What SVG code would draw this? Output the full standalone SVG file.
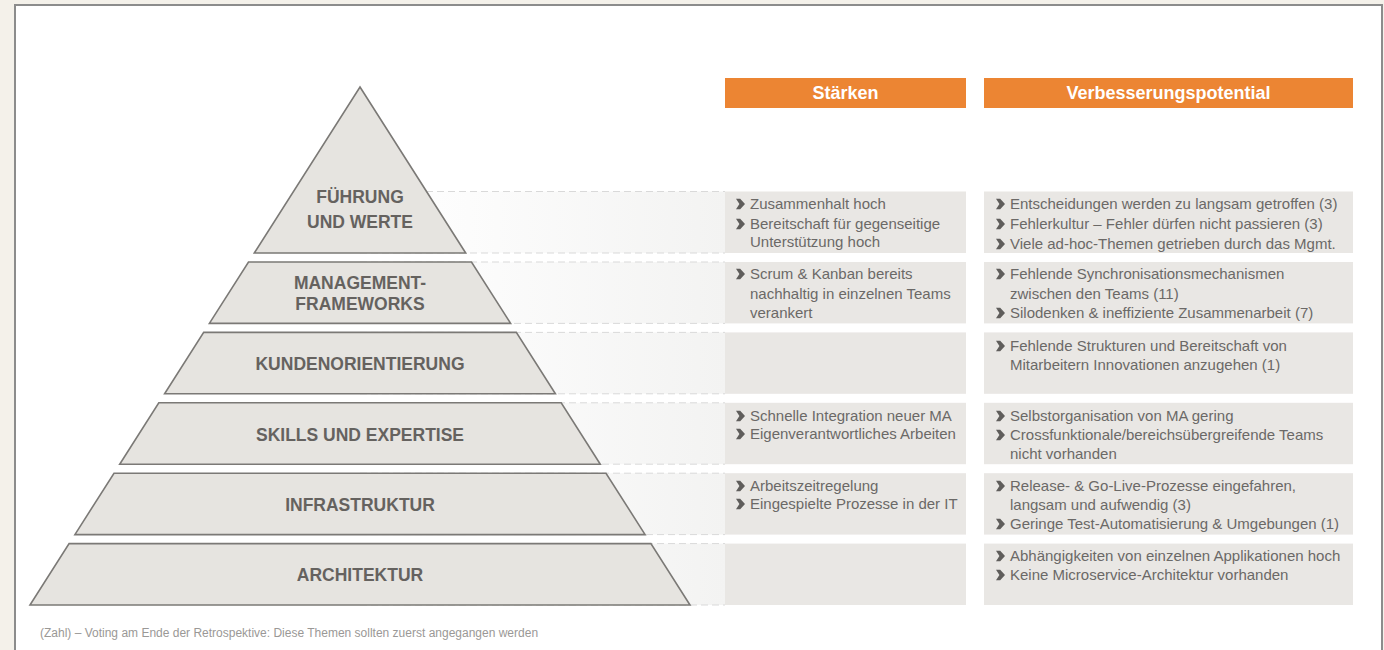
<svg xmlns="http://www.w3.org/2000/svg" width="1384" height="650" viewBox="0 0 1384 650">
<defs>
<linearGradient id="band" x1="360" y1="0" x2="725" y2="0" gradientUnits="userSpaceOnUse">
<stop offset="0" stop-color="#ffffff"/>
<stop offset="0.3" stop-color="#fcfcfc"/>
<stop offset="1" stop-color="#f3f3f2"/>
</linearGradient>
<path id="bl" d="M0,-5.2 L4.2,-5.2 L9,0 L4.2,5.2 L0,5.2 L3.4,0 Z" fill="#5f5d5b"/>
</defs>
<style>
.layer{fill:#e6e4e0;stroke:#7b7976;stroke-width:1.6;stroke-linejoin:miter}
.lbl{font-family:"Liberation Sans",Arial,sans-serif;font-weight:bold;font-size:17.5px;fill:#65625f;text-anchor:middle}
.hdr{fill:#ec8533}
.hdrt{font-family:"Liberation Sans",Arial,sans-serif;font-weight:bold;font-size:18px;fill:#ffffff;text-anchor:middle}
.cell{fill:#e9e7e4}
.t{font-family:"Liberation Sans",Arial,sans-serif;font-size:15px;fill:#6b6967}
.dash{stroke:#d9d9d9;stroke-width:1;stroke-dasharray:7 4;fill:none}
.bandr{fill:url(#band)}
.foot{font-family:"Liberation Sans",Arial,sans-serif;font-size:12px;fill:#9a9896}
</style>
<rect x="0" y="0" width="1384" height="650" fill="#f4f1ea"/>
<rect x="15" y="5" width="1367" height="670" fill="#ffffff" stroke="#8c8c8c" stroke-width="2"/>

<g id="connectors">
<rect class="bandr" x="360" y="191.5" width="365" height="61.5"/>
<rect class="bandr" x="360" y="262" width="365" height="61.4"/>
<rect class="bandr" x="360" y="332.4" width="365" height="61.4"/>
<rect class="bandr" x="360" y="402.8" width="365" height="61.4"/>
<rect class="bandr" x="360" y="473.2" width="365" height="61.4"/>
<rect class="bandr" x="360" y="543.6" width="365" height="61.4"/>
<line class="dash" x1="360" y1="191.5" x2="725" y2="191.5"/>
<line class="dash" x1="360" y1="253" x2="725" y2="253"/>
<line class="dash" x1="360" y1="262" x2="725" y2="262"/>
<line class="dash" x1="360" y1="323.4" x2="725" y2="323.4"/>
<line class="dash" x1="360" y1="332.4" x2="725" y2="332.4"/>
<line class="dash" x1="360" y1="393.8" x2="725" y2="393.8"/>
<line class="dash" x1="360" y1="402.8" x2="725" y2="402.8"/>
<line class="dash" x1="360" y1="464.2" x2="725" y2="464.2"/>
<line class="dash" x1="360" y1="473.2" x2="725" y2="473.2"/>
<line class="dash" x1="360" y1="534.6" x2="725" y2="534.6"/>
<line class="dash" x1="360" y1="543.6" x2="725" y2="543.6"/>
<line class="dash" x1="360" y1="605" x2="725" y2="605"/>
</g>

<g id="layer-fuehrung">
<polygon class="layer" points="360,87 465.7,253 254.3,253"/>
<text class="lbl" x="360" y="203">FÜHRUNG</text>
<text class="lbl" x="360" y="228">UND WERTE</text>
</g>
<g id="layer-management">
<polygon class="layer" points="248.5,262 471.5,262 510.6,323.4 209.4,323.4"/>
<text class="lbl" x="360" y="289">MANAGEMENT-</text>
<text class="lbl" x="360" y="310">FRAMEWORKS</text>
</g>
<g id="layer-kunden">
<polygon class="layer" points="203.7,332.4 516.3,332.4 555.4,393.8 164.6,393.8"/>
<text class="lbl" x="360" y="370">KUNDENORIENTIERUNG</text>
</g>
<g id="layer-skills">
<polygon class="layer" points="158.8,402.8 561.2,402.8 600.3,464.2 119.7,464.2"/>
<text class="lbl" x="360" y="441">SKILLS UND EXPERTISE</text>
</g>
<g id="layer-infra">
<polygon class="layer" points="114,473.2 606,473.2 645.1,534.6 74.9,534.6"/>
<text class="lbl" x="360" y="511">INFRASTRUKTUR</text>
</g>
<g id="layer-architektur">
<polygon class="layer" points="69.1,543.6 650.9,543.6 690,605 30,605"/>
<text class="lbl" x="360" y="581">ARCHITEKTUR</text>
</g>

<g id="header-staerken">
<rect class="hdr" x="725" y="78" width="241" height="30"/>
<text class="hdrt" x="845.5" y="98.5">Stärken</text>
</g>
<g id="header-verbesserung">
<rect class="hdr" x="984" y="78" width="369" height="30"/>
<text class="hdrt" x="1168.5" y="98.5">Verbesserungspotential</text>
</g>

<g id="s1">
<rect class="cell" x="725" y="191.5" width="241" height="61.5"/>
<use href="#bl" x="736" y="204"/><text class="t" x="750" y="209">Zusammenhalt hoch</text>
<use href="#bl" x="736" y="224"/><text class="t" x="750" y="229">Bereitschaft für gegenseitige</text>
<text class="t" x="750" y="247">Unterstützung hoch</text>
</g>
<g id="v1">
<rect class="cell" x="984" y="191.5" width="369" height="61.5"/>
<use href="#bl" x="996" y="204"/><text class="t" x="1010" y="209">Entscheidungen werden zu langsam getroffen (3)</text>
<use href="#bl" x="996" y="224"/><text class="t" x="1010" y="229">Fehlerkultur – Fehler dürfen nicht passieren (3)</text>
<use href="#bl" x="996" y="244"/><text class="t" x="1010" y="249">Viele ad-hoc-Themen getrieben durch das Mgmt.</text>
</g>
<g id="s2">
<rect class="cell" x="725" y="262" width="241" height="61.4"/>
<use href="#bl" x="736" y="274"/><text class="t" x="750" y="279">Scrum &amp; Kanban bereits</text>
<text class="t" x="750" y="299">nachhaltig in einzelnen Teams</text>
<text class="t" x="750" y="318">verankert</text>
</g>
<g id="v2">
<rect class="cell" x="984" y="262" width="369" height="61.4"/>
<use href="#bl" x="996" y="274"/><text class="t" x="1010" y="279">Fehlende Synchronisationsmechanismen</text>
<text class="t" x="1010" y="299">zwischen den Teams (11)</text>
<use href="#bl" x="996" y="313"/><text class="t" x="1010" y="318">Silodenken &amp; ineffiziente Zusammenarbeit (7)</text>
</g>
<g id="s3">
<rect class="cell" x="725" y="332.4" width="241" height="61.4"/>
</g>
<g id="v3">
<rect class="cell" x="984" y="332.4" width="369" height="61.4"/>
<use href="#bl" x="996" y="346"/><text class="t" x="1010" y="351">Fehlende Strukturen und Bereitschaft von</text>
<text class="t" x="1010" y="370">Mitarbeitern Innovationen anzugehen (1)</text>
</g>
<g id="s4">
<rect class="cell" x="725" y="402.8" width="241" height="61.4"/>
<use href="#bl" x="736" y="416"/><text class="t" x="750" y="421">Schnelle Integration neuer MA</text>
<use href="#bl" x="736" y="434"/><text class="t" x="750" y="439">Eigenverantwortliches Arbeiten</text>
</g>
<g id="v4">
<rect class="cell" x="984" y="402.8" width="369" height="61.4"/>
<use href="#bl" x="996" y="416"/><text class="t" x="1010" y="421">Selbstorganisation von MA gering</text>
<use href="#bl" x="996" y="435"/><text class="t" x="1010" y="440">Crossfunktionale/bereichsübergreifende Teams</text>
<text class="t" x="1010" y="459">nicht vorhanden</text>
</g>
<g id="s5">
<rect class="cell" x="725" y="473.2" width="241" height="61.4"/>
<use href="#bl" x="736" y="486"/><text class="t" x="750" y="491">Arbeitszeitregelung</text>
<use href="#bl" x="736" y="504"/><text class="t" x="750" y="509">Eingespielte Prozesse in der IT</text>
</g>
<g id="v5">
<rect class="cell" x="984" y="473.2" width="369" height="61.4"/>
<use href="#bl" x="996" y="486"/><text class="t" x="1010" y="491">Release- &amp; Go-Live-Prozesse eingefahren,</text>
<text class="t" x="1010" y="510">langsam und aufwendig (3)</text>
<use href="#bl" x="996" y="524"/><text class="t" x="1010" y="529">Geringe Test-Automatisierung &amp; Umgebungen (1)</text>
</g>
<g id="s6">
<rect class="cell" x="725" y="543.6" width="241" height="61.4"/>
</g>
<g id="v6">
<rect class="cell" x="984" y="543.6" width="369" height="61.4"/>
<use href="#bl" x="996" y="556"/><text class="t" x="1010" y="561">Abhängigkeiten von einzelnen Applikationen hoch</text>
<use href="#bl" x="996" y="575"/><text class="t" x="1010" y="580">Keine Microservice-Architektur vorhanden</text>
</g>

<g id="footnote">
<text class="foot" x="40" y="637">(Zahl) – Voting am Ende der Retrospektive: Diese Themen sollten zuerst angegangen werden</text>
</g>
</svg>
